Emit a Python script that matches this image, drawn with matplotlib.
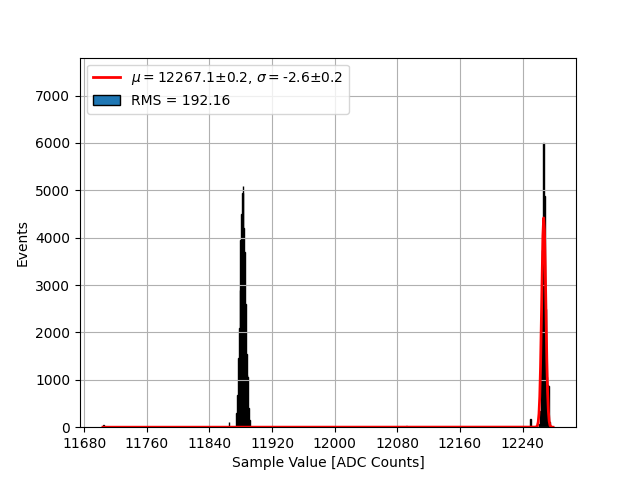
import numpy as np
import matplotlib.pyplot as plt
from matplotlib.ticker import MultipleLocator

# ADC sample values (bin centres) and number of events in each
adc_values = [11705, 11865,
              11875, 11876, 11877, 11878, 11879, 11880, 11881, 11882,
              11883, 11884, 11885, 11886, 11887, 11888, 11889, 11890, 11891,
              12092, 12250,
              12262, 12263, 12264, 12265, 12266, 12267, 12268, 12269,
              12270, 12271, 12272, 12273, 12274]
events = [40, 100,
          300, 680, 1450, 2100, 2900, 3950, 4500, 4950,
          5100, 4200, 3700, 2600, 1550, 1100, 1050, 400, 150,
          30, 180,
          60, 350, 1500, 3740, 2750, 6000, 4870, 2500,
          1070, 1060, 890, 880, 100]

# gaussian fit result
fit_amp = 4420
fit_mu = 12267.1
fit_mu_err = 0.2
fit_sigma = -2.6
fit_sigma_err = 0.2
rms = 192.16

bin_lo, bin_hi = 11704, 12279
edges = np.arange(bin_lo - 0.5, bin_hi + 1.5, 1)
centres = np.arange(bin_lo, bin_hi + 1)
fit_curve = fit_amp * np.exp(-(centres - fit_mu) ** 2 / (2 * fit_sigma ** 2))

fig, ax = plt.subplots(figsize=(6.4, 4.8))
ax.hist(adc_values, bins=edges, weights=events, edgecolor='black',
        label='RMS = %.2f' % rms)
ax.plot(centres, fit_curve, color='red', linewidth=2,
        label=r'$\mu=$' + '%.1f±%.1f, ' % (fit_mu, fit_mu_err)
        + r'$\sigma=$' + '%.1f±%.1f' % (fit_sigma, fit_sigma_err))
ax.set_ylim(0, 1.3 * max(events))
ax.xaxis.set_major_locator(MultipleLocator(80))
ax.set_xlabel('Sample Value [ADC Counts]')
ax.set_ylabel('Events')
ax.grid(True)
handles, labels = ax.get_legend_handles_labels()
ax.legend(handles[::-1], labels[::-1], loc='upper left')
fig.savefig('out.png')
